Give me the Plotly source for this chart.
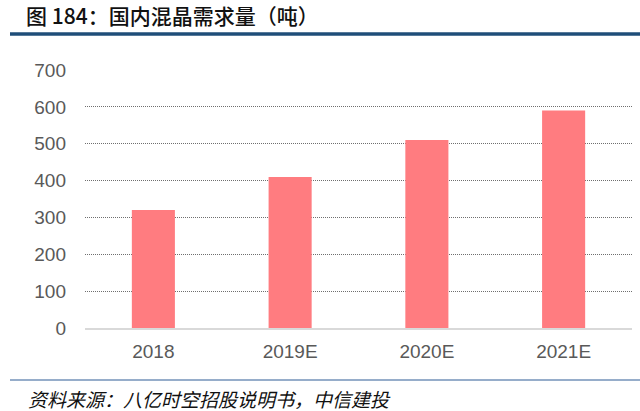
import plotly.graph_objects as go

# 数据
years = ["2018", "2019E", "2020E", "2021E"]
demand = [320, 410, 510, 590]
y_ticks = [0, 100, 200, 300, 400, 500, 600, 700]

title_text = "图 184：国内混晶需求量（吨）"
source_text = "资料来源：八亿时空招股说明书，中信建投"

W, H = 640, 411
L, R, T, B = 85, 8, 70, 83
PW, PH = W - L - R, H - T - B


# 像素 -> paper 坐标
def px(x):
    return (x - L) / PW


def py(y):
    return (H - B - y) / PH


bar = go.Bar(
    x=years,
    y=demand,
    marker=dict(color="#ff7c80", line=dict(width=0)),
    hoverinfo="x+y",
)

fig = go.Figure(data=[bar])

fig.update_layout(
    width=W,
    height=H,
    margin=dict(l=L, r=R, t=T, b=B, autoexpand=False),
    paper_bgcolor="white",
    plot_bgcolor="white",
    showlegend=False,
    bargap=0.685,
    font=dict(family="Liberation Sans, Arial, sans-serif", color="#595959"),
    xaxis=dict(
        showgrid=False,
        showline=True,
        linecolor="#d9d9d9",
        linewidth=1.5,
        ticks="",
        tickfont=dict(size=19, color="#595959"),
        ticklabelstandoff=5,
    ),
    yaxis=dict(
        range=[0, 700],
        tickvals=y_ticks,
        showgrid=True,
        gridcolor="#6f6f6f",
        gridwidth=1,
        griddash="1px,1px",
        zeroline=False,
        showline=False,
        ticks="",
        tickfont=dict(size=19, color="#595959"),
        ticklabelstandoff=18,
    ),
)

# 标题与来源
fig.add_annotation(
    text=title_text, xref="paper", yref="paper",
    x=px(24), y=py(15), xanchor="left", yanchor="middle",
    showarrow=False,
    font=dict(family="Noto Sans CJK SC", size=21, color="#111111", weight=500),
)
fig.add_annotation(
    text=source_text, xref="paper", yref="paper",
    x=px(26), y=py(398), xanchor="left", yanchor="middle",
    showarrow=False,
    font=dict(family="Noto Sans CJK SC", size=19, color="#111111", style="italic"),
)

# 上下两条蓝线
fig.add_shape(type="line", xref="paper", yref="paper",
              x0=px(10), x1=px(640), y0=py(34), y1=py(34),
              line=dict(color="#1f4e79", width=3.5))
fig.add_shape(type="line", xref="paper", yref="paper",
              x0=px(10), x1=px(640), y0=py(380), y1=py(380),
              line=dict(color="#2e5c96", width=1.2))

# 去掉页面默认边距
fig.write_html("out.html", config={"displayModeBar": False},
               post_script="document.body.style.margin='0';")
